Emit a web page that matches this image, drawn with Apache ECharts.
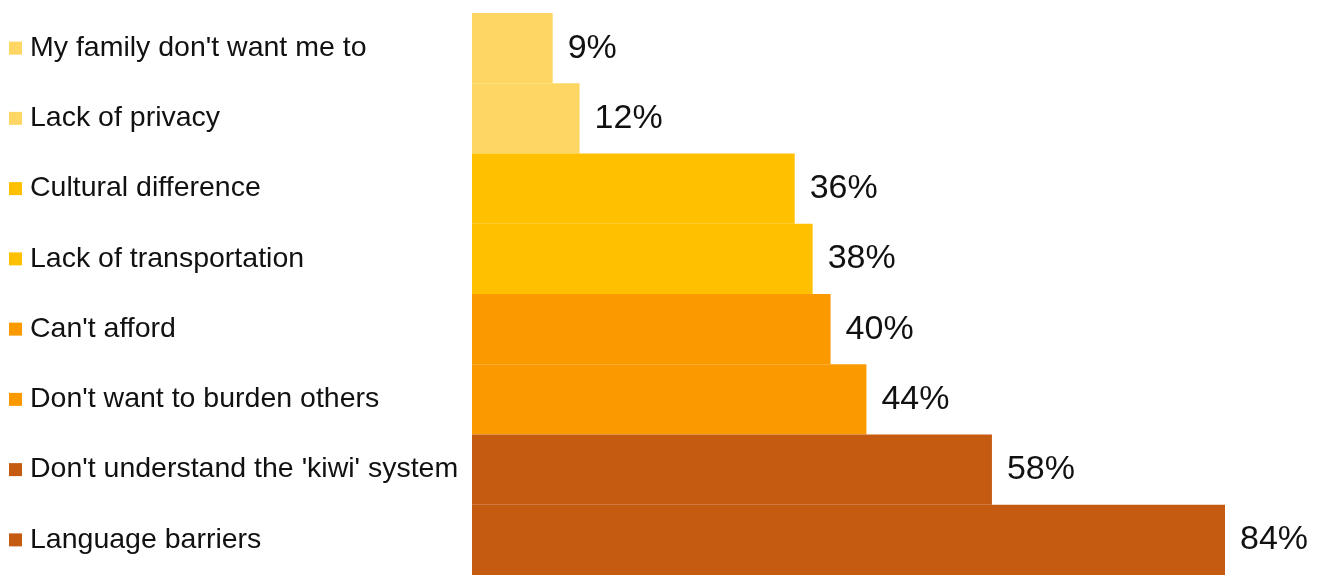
<!DOCTYPE html>
<html>
<head>
<meta charset="utf-8">
<script src="https://cdn.jsdelivr.net/npm/echarts@6/dist/echarts.min.js"></script>
<style>
html,body{margin:0;padding:0;background:#fff;}
#chart{width:1331px;height:575px;}
</style>
</head>
<body>
<div id="chart"></div>
<script>
const categories = [
  "My family don't want me to",
  "Lack of privacy",
  "Cultural difference",
  "Lack of transportation",
  "Can't afford",
  "Don't want to burden others",
  "Don't understand the 'kiwi' system",
  "Language barriers"
];
const values = [9, 12, 36, 38, 40, 44, 58, 84];
const groupIndex = [0, 0, 1, 1, 2, 2, 3, 3];
const palette = ["#FDD663", "#FFC000", "#FA9A00", "#C55A11"];

const rich = {};
palette.forEach((c, i) => {
  rich['sq' + i] = { width: 13, height: 13, backgroundColor: c };
});
rich.t = { fontFamily: 'Liberation Sans, Arial, sans-serif', fontSize: 28.5, color: '#111', padding: [0, 0, 0, 8] };

const chart = echarts.init(document.getElementById('chart'), null, { renderer: 'canvas' });
chart.setOption({
  animation: false,
  backgroundColor: '#ffffff',
  grid: { left: 472, top: 13, height: 567, right: 106 },
  xAxis: {
    type: 'value', min: 0, max: 84, show: false,
    splitLine: { show: false }
  },
  yAxis: {
    type: 'category', inverse: true, data: categories,
    axisLine: { show: false }, axisTick: { show: false },
    axisLabel: {
      align: 'left', margin: 463,
      formatter: (v, i) => '{sq' + groupIndex[i] + '|}{t|' + v + '}',
      rich: rich
    }
  },
  series: [{
    type: 'bar',
    barCategoryGap: 0,
    data: values.map((v, i) => ({ value: v, itemStyle: { color: palette[groupIndex[i]] } })),
    label: {
      show: true, position: 'right', distance: 15,
      formatter: '{c}%',
      fontFamily: 'Liberation Sans, Arial, sans-serif',
      fontSize: 34, color: '#111',
      padding: [4, 0, 0, 0]
    }
  }]
});
</script>
</body>
</html>
